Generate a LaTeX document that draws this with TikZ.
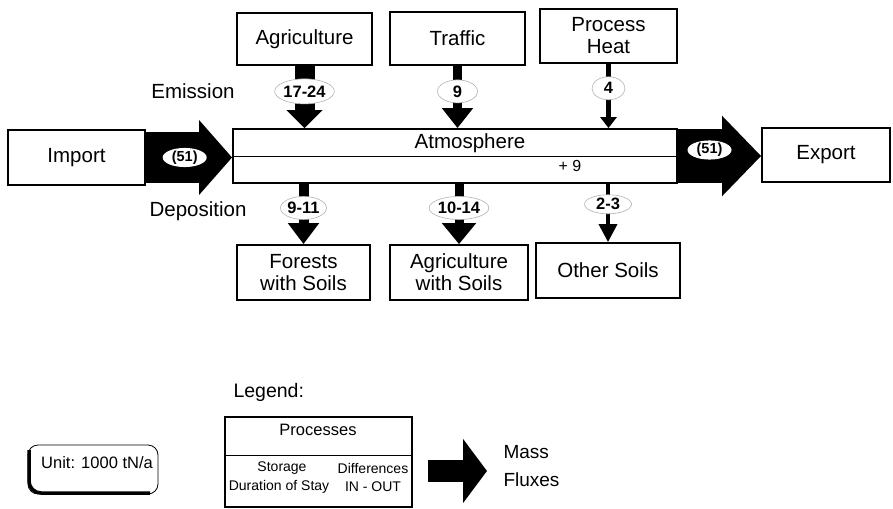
\documentclass[tikz,border=0pt]{standalone}
\usepackage{fontspec}
\setmainfont{Liberation Sans}
\usetikzlibrary{arrows.meta,shapes.geometric,calc}
\begin{document}
\begin{tikzpicture}[x=1pt,y=-1pt,
  fA/.style={font=\fontsize{20.5}{24}\selectfont},
  box/.style n args={2}{draw,line width=1.8pt,minimum width=#1,minimum height=#2,inner sep=0pt,align=center,fA},
  flux/.style n args={3}{line width=#1,-{Triangle[width=#2,length=#3]}},
  lab/.style n args={2}{ellipse,draw=gray!60,line width=0.6pt,fill=white,inner sep=0pt,minimum width=#1,minimum height=#2,font=\fontsize{16.5}{18}\selectfont\bfseries},
  wlab/.style={ellipse,fill=white,inner sep=0pt,minimum width=44,minimum height=19,font=\fontsize{14.5}{16}\selectfont\bfseries},
  leg/.style={font=\fontsize{14}{16}\selectfont}
]
\useasboundingbox (0,0) rectangle (893,508);

% process boxes
\node[box={137}{55}] (imp) at (76.5,157.5) {Import};
\node[draw,line width=1.8pt,minimum width=444,minimum height=54,inner sep=0pt] (atm) at (455,156) {};
\node[box={128}{54}] (exp) at (826,155) {Export};
\node[box={135}{52}] (agr) at (304.5,39) {Agriculture};
\node[box={135}{53}] (trf) at (457.5,38.5) {Traffic};
\node[box={137}{54}] (phe) at (608.5,36) {Process\\[-2pt]Heat};
\node[box={133}{55}] (for) at (303.5,272.5) {Forests\\[-2pt]with Soils};
\node[box={138}{55}] (ags) at (459,272.5) {Agriculture\\[-2pt]with Soils};
\node[box={144}{55}] (oth) at (608,270.5) {Other Soils};

% atmosphere interior
\draw[line width=1pt] (atm.west) -- (atm.east);
\node[fA] (atmt) at (470,143) {Atmosphere};
\node[font=\fontsize{16}{18}\selectfont] (atmd) at (570,166) {+ 9};

% side labels
\node[fA] (emi) at (193,91) {Emission};
\node[fA] (dep) at (198,211) {Deposition};

% import / export fluxes
\draw[flux={51}{73}{33}] (imp.east) -- (imp.east -| atm.west)
  node[wlab,pos=0.45] {(51)};
\draw[flux={54}{78}{39}] (atm.east) -- (atm.east -| exp.west)
  node[wlab,pos=0.38,yshift=6pt] {(51)};

% emissions
\draw[flux={20}{35}{18}] (agr.south) -- (agr.south |- atm.north)
  node[lab={47}{25},pos=0.41] {17-24};
\draw[flux={9}{30}{20}] (trf.south) -- (trf.south |- atm.north)
  node[lab={40}{23},pos=0.41] {9};
\draw[flux={4.5}{16}{11}] (phe.south) -- (phe.south |- atm.north)
  node[lab={33}{23},pos=0.38] {4};

% depositions
\draw[flux={10}{30}{21}] (for.north |- atm.south) -- (for.north)
  node[lab={46}{23},pos=0.40] {9-11};
\draw[flux={9}{33}{21}] (ags.north |- atm.south) -- (ags.north)
  node[lab={47}{23},pos=0.40] {10-14};
\draw[flux={3.5}{18}{18}] (oth.north |- atm.south) -- (oth.north)
  node[lab={47}{19},pos=0.35] {2-3};

% unit box
\draw[line width=0.8pt,rounded corners=10pt] (28,445) rectangle (158,494);
\draw[line width=3.5pt,rounded corners=12pt] (29,450) -- (29,493) -- (150,493);
\node[font=\fontsize{16.5}{19}\selectfont] (unit) at (97,463) {Unit: 1000 tN/a};

% legend
\node[font=\fontsize{19.5}{23}\selectfont,anchor=west] (legt) at (230,392) {Legend:};
\node[draw,line width=1.5pt,minimum width=187,minimum height=90,inner sep=0pt] (legb) at (318.5,462) {};
\draw[line width=0.8pt] (225,455) -- (412,455);
\node[font=\fontsize{16.5}{19}\selectfont] (legp) at (318,430) {Processes};
\node[leg] (lst) at (282,468) {Storage};
\node[leg] (ldi) at (373,468) {Differences};
\node[leg] (ldu) at (279,487) {Duration of Stay};
\node[leg] (lio) at (373,487) {IN - OUT};
\coordinate (la) at (428,471);
\coordinate (lb) at (487,471);
\draw[flux={22}{63}{24}] (la) -- (lb);
\node[font=\fontsize{19}{28}\selectfont,anchor=west,align=left] (lmf) at (500,466) {Mass\\Fluxes};
\end{tikzpicture}
\end{document}
